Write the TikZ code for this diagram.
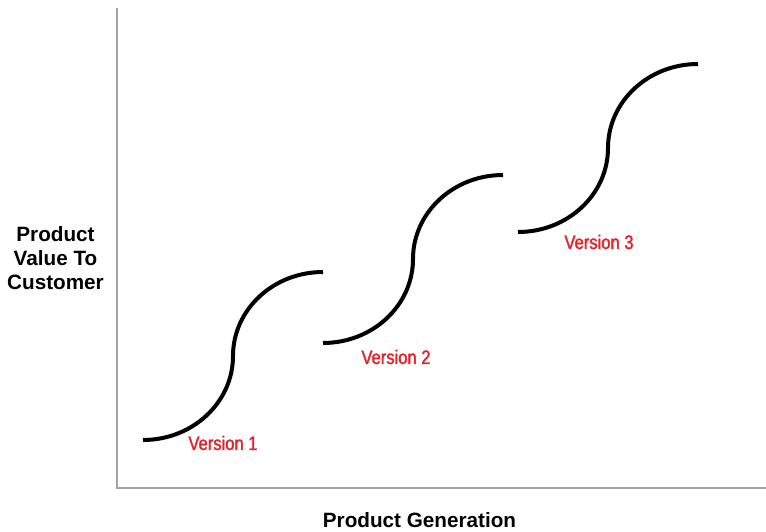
\documentclass[tikz,border=0pt]{standalone}
\usepackage{fontspec}
\setmainfont{Liberation Sans}
\newfontfamily\narrowfont[FakeStretch=0.85, FakeBold=1.6]{Liberation Sans}
\usepackage{xcolor}
\usetikzlibrary{positioning}
\definecolor{axisGrey}{HTML}{A3A3A3}
\definecolor{versionRed}{HTML}{E3222A}
\definecolor{curveBlack}{HTML}{000000}

\begin{document}
\begin{tikzpicture}[
  x=1pt, y=1pt,
  axisline/.style={draw=axisGrey, line width=2.2pt},
  scurve/.style={draw=curveBlack, line width=4pt},
  axislabel/.style={
    font=\fontsize{20.7}{24}\selectfont\bfseries,
    align=center, inner sep=0pt
  },
  versionlabel/.style={
    font=\narrowfont\fontsize{19.5}{23}\selectfont,
    text=versionRed, inner sep=0pt
  },
]
\useasboundingbox (0,0) rectangle (766,531);

% === AXES ===
\coordinate (ytop) at (117,523);
\coordinate (origin) at (117,43);
\coordinate (xend) at (766,43);
\draw[axisline] (ytop) -- (origin) -- (xend);

% === S-CURVES ===
\coordinate (s1) at (143,91);
\coordinate (s2) at (323,188);
\coordinate (s3) at (518,299);
\foreach \s in {s1,s2,s3}{
  \draw[scurve] (\s)
    arc[start angle=-90, end angle=0, x radius=90, y radius=84]
    arc[start angle=180, end angle=90, x radius=90, y radius=84];
}

% === Version labels ===
\node[versionlabel] (v1) at (223,88) {Version 1};
\node[versionlabel] (v2) at (396,174) {Version 2};
\node[versionlabel] (v3) at (599,289) {Version 3};

% === Axis labels ===
\node[axislabel] (ylab) at (55.5,272.5) {Product\\Value To\\Customer};
\node[axislabel, anchor=base] (xlab) at (419.5,4) {Product Generation};

\end{tikzpicture}
\end{document}
